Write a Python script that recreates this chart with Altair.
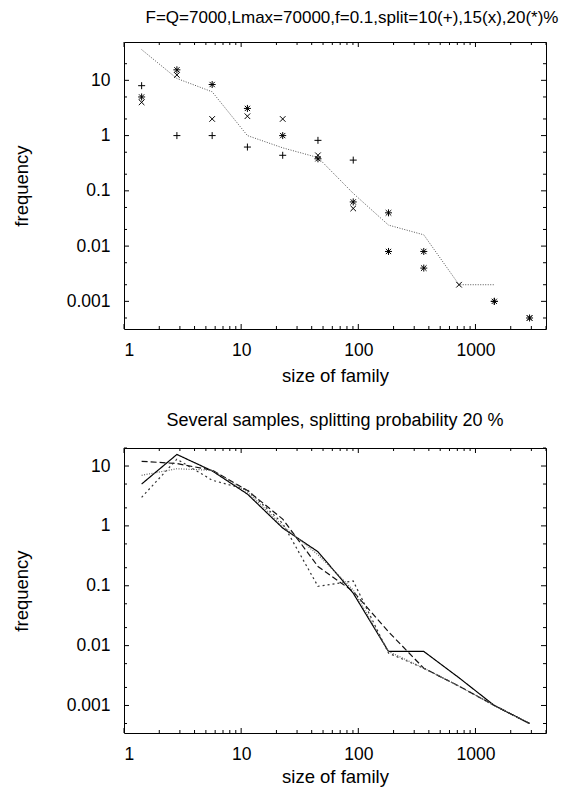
import altair as alt
import pandas as pd

# ---- data ----
SIZES = [1.414, 2.828, 5.657, 11.31, 22.63, 45.25, 90.51, 181.0, 362.0, 724.1, 1448.0, 2896.0]

# top panel: markers per splitting probability (None = no point)
SPLIT10 = [8.0, 1.0, 1.0, 0.62, 0.44, 0.82, 0.36, 0.04, 0.004, None, 0.001, None]
SPLIT15 = [4.0, 12.5, 2.0, 2.24, 2.0, 0.44, 0.048, 0.04, 0.004, 0.002, None, 0.0005]
SPLIT20 = [5.0, 15.5, 8.4, 3.1, 1.0, 0.38, 0.063, 0.008, 0.008, None, 0.001, 0.0005]
# top panel: reference curve
CURVE = [36.0, 10.8, 6.2, 1.0, 0.6, 0.4, 0.09, 0.024, 0.016, 0.002, 0.002]

# bottom panel: several samples at 20 %
SAMPLE_A = [5.0, 15.6, 8.3, 3.4, 0.92, 0.37, 0.075, 0.008, 0.008, 0.0029, 0.001, 0.0005]
SAMPLE_B = [12.0, 11.0, 8.5, 3.9, 1.3, 0.21, 0.08, 0.017, 0.0042, 0.0021, 0.001, 0.0005]
SAMPLE_C = [3.0, 13.0, 5.8, 4.0, 1.1, 0.098, 0.12, 0.0075, 0.0042, 0.0021, 0.001, 0.0005]
SAMPLE_D = [7.0, 9.0, 8.5, 3.7, 1.0, 0.33, 0.085, 0.008, 0.0042, 0.0021, 0.001, 0.0005]

X_MAJOR = [1, 10, 100, 1000]
X_MINOR_MULT = [2, 3, 4, 5, 6, 7, 8, 9]
Y_LABELS = [0.001, 0.01, 0.1, 1, 10]
Y_DECADES = [0.0001, 0.001, 0.01, 0.1, 1, 10, 100]
Y_MINOR_MULT = [2, 5]

FONT = "Liberation Sans"
W = 422
H_TOP = 287
H_BOT = 285
X_DOM = [1, 4000]
Y_DOM_TOP = [0.000316, 49.4]
Y_DOM_BOT = [0.000347, 20.0]

# ---- tables ----
pts = []
for name, vals in [("10", SPLIT10), ("15", SPLIT15), ("20", SPLIT20)]:
    for s, v in zip(SIZES, vals):
        if v is not None:
            pts.append({"size": s, "freq": v, "split": name})
pts = pd.DataFrame(pts)
curve = pd.DataFrame({"size": SIZES[: len(CURVE)], "freq": CURVE})

samples = []
for name, vals in [("A", SAMPLE_A), ("B", SAMPLE_B), ("C", SAMPLE_C), ("D", SAMPLE_D)]:
    for s, v in zip(SIZES, vals):
        samples.append({"size": s, "freq": v, "sample": name})
samples = pd.DataFrame(samples)

x_major = pd.DataFrame({"size": X_MAJOR})
x_minor = pd.DataFrame({"size": [d * m for d in X_MAJOR for m in X_MINOR_MULT if d * m <= X_DOM[1]]})

AX = dict(labelFont=FONT, labelFontSize=17.5, labelColor="black", titleFont=FONT, titleFontSize=18.5,
          titleFontWeight="normal", titleColor="black", domain=False, ticks=False, grid=False)
x_axis_top = alt.Axis(values=X_MAJOR, format="~g", title="size of family", labelPadding=12, titlePadding=8, **AX)
x_axis_bot = alt.Axis(values=X_MAJOR, format="~g", title="size of family", labelPadding=12, titlePadding=5, **AX)
y_axis = alt.Axis(values=Y_LABELS, format="~g", title="frequency", labelPadding=14, titlePadding=35, **AX)


def y_ticks(dom):
    major = [d for d in Y_DECADES if dom[0] <= d <= dom[1]]
    minor = [d * m for d in Y_DECADES for m in Y_MINOR_MULT if dom[0] <= d * m <= dom[1]]
    return pd.DataFrame({"freq": major}), pd.DataFrame({"freq": minor})


def tick_layers(xs, ys, h, ydom, x_axis):
    ym, yn = y_ticks(ydom)
    layers = []
    for df, ln in [(x_major, 5), (x_minor, 3)]:
        base = alt.Chart(df).mark_rule(color="black", strokeWidth=1)
        layers.append(base.encode(x=alt.X("size:Q", scale=xs, axis=x_axis), y=alt.value(h), y2=alt.value(h - ln)))
        layers.append(base.encode(x=alt.X("size:Q", scale=xs, axis=x_axis), y=alt.value(0), y2=alt.value(ln)))
    for df, ln in [(ym, 5), (yn, 3)]:
        base = alt.Chart(df).mark_rule(color="black", strokeWidth=1)
        layers.append(base.encode(y=alt.Y("freq:Q", scale=ys, axis=y_axis), x=alt.value(0), x2=alt.value(ln)))
        layers.append(base.encode(y=alt.Y("freq:Q", scale=ys, axis=y_axis), x=alt.value(W), x2=alt.value(W - ln)))
    return layers


xs = alt.Scale(type="log", domain=X_DOM, nice=False)
ys_top = alt.Scale(type="log", domain=Y_DOM_TOP, nice=False)
ys_bot = alt.Scale(type="log", domain=Y_DOM_BOT, nice=False)

# top panel
top_line = alt.Chart(curve).mark_line(color="#555", strokeWidth=1, strokeDash=[1, 1.5]).encode(
    x=alt.X("size:Q", scale=xs, axis=x_axis_top),
    y=alt.Y("freq:Q", scale=ys_top, axis=y_axis),
)
PLUS = "M-1,0L1,0M0,-1L0,1"
CROSS = "M-0.8,-0.8L0.8,0.8M-0.8,0.8L0.8,-0.8"
STAR = "M-1,0L1,0M0,-1L0,1M-0.75,-0.75L0.75,0.75M-0.75,0.75L0.75,-0.75"
top_pts = alt.Chart(pts).mark_point(filled=False, color="black", strokeWidth=1, size=49, opacity=1).encode(
    x=alt.X("size:Q", scale=xs, axis=x_axis_top),
    y=alt.Y("freq:Q", scale=ys_top, axis=y_axis),
    shape=alt.Shape("split:N", scale=alt.Scale(domain=["10", "15", "20"], range=[PLUS, CROSS, STAR]), legend=None),
)
top = alt.layer(top_line, top_pts, *tick_layers(xs, ys_top, H_TOP, Y_DOM_TOP, x_axis_top)).properties(
    width=W, height=H_TOP,
    title=alt.TitleParams("F=Q=7000,Lmax=70000,f=0.1,split=10(+),15(x),20(*)%", fontSize=17, font=FONT,
                          fontWeight="normal", color="black", anchor="middle", frame="group", dx=17, offset=14.5),
)

# bottom panel
bot_lines = alt.Chart(samples).mark_line(strokeWidth=1.2).encode(
    x=alt.X("size:Q", scale=xs, axis=x_axis_bot),
    y=alt.Y("freq:Q", scale=ys_bot, axis=y_axis),
    color=alt.Color("sample:N", scale=alt.Scale(domain=["A", "B", "C", "D"],
                                                range=["#000000", "#111111", "#333333", "#666666"]), legend=None),
    strokeDash=alt.StrokeDash("sample:N", scale=alt.Scale(domain=["A", "B", "C", "D"],
                                                          range=[[1, 0], [6, 3], [2, 3], [1, 1.5]]), legend=None),
)
bot = alt.layer(bot_lines, *tick_layers(xs, ys_bot, H_BOT, Y_DOM_BOT, x_axis_bot)).properties(
    width=W, height=H_BOT,
    title=alt.TitleParams("Several samples, splitting probability 20 %", fontSize=18, font=FONT,
                          fontWeight="normal", color="black", anchor="middle", frame="group", offset=18),
)

chart = alt.vconcat(top, bot, spacing=25).properties(
    padding={"left": 3, "top": 0, "right": 0, "bottom": 0}, background="white"
).configure_view(stroke="black", strokeWidth=1)

chart.save("out.html", embed_options={"renderer": "svg", "actions": False})
